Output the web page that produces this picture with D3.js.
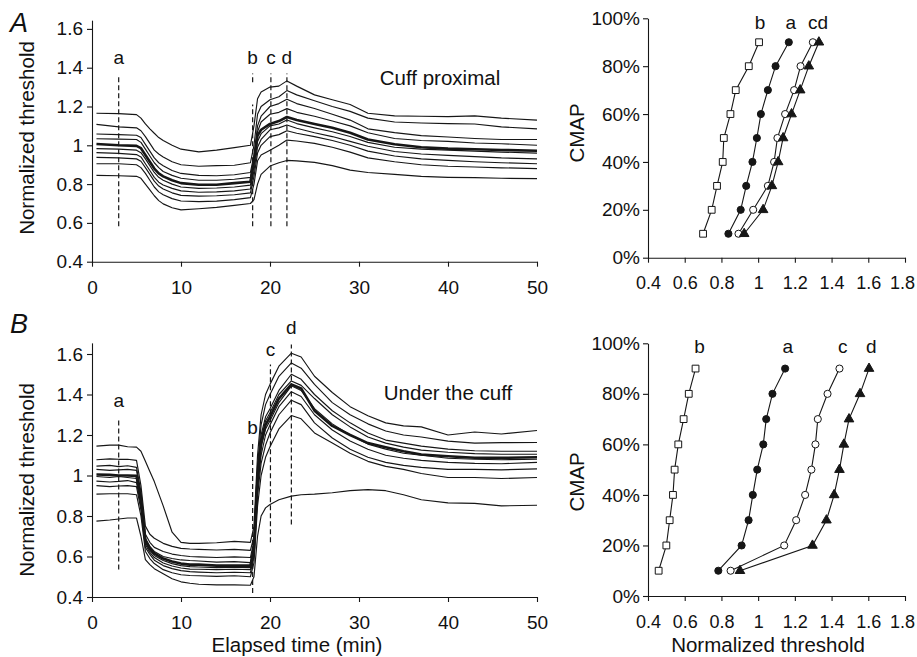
<!DOCTYPE html>
<html>
<head>
<meta charset="utf-8">
<script src="https://cdn.jsdelivr.net/npm/d3@7"></script>
<style>
  body { margin: 0; background: #fff; }
  svg { display: block; }
  text { font-family: "Liberation Sans", Arial, Helvetica, sans-serif; fill: #111; }
</style>
</head>
<body>
<svg id="fig" width="917" height="657"></svg>
<script>
// ---------- time courses: cuff proximal (panel A) ----------
const timeProx = [0.5, 3, 5, 5.5, 6, 6.5, 7, 7.5, 8, 9, 10, 12, 14, 16, 17.8, 18.2, 18.6, 19, 20, 21, 21.9, 23, 25, 27, 29, 31, 34, 37, 40, 43, 46, 50];
const prox90 = [1.165, 1.163, 1.158, 1.14, 1.11, 1.085, 1.062, 1.04, 1.025, 1.0, 0.98, 0.966, 0.975, 0.988, 1.0, 1.1, 1.24, 1.275, 1.3, 1.305, 1.332, 1.305, 1.26, 1.235, 1.21, 1.165, 1.152, 1.15, 1.148, 1.152, 1.14, 1.13];
const prox80 = [1.108, 1.095, 1.09, 1.075, 1.045, 1.01, 0.975, 0.955, 0.94, 0.915, 0.9, 0.892, 0.895, 0.897, 0.91, 1.0, 1.16, 1.2, 1.235, 1.25, 1.282, 1.26, 1.23, 1.2, 1.175, 1.14, 1.12, 1.115, 1.112, 1.11, 1.095, 1.085];
const prox70 = [1.058, 1.055, 1.052, 1.04, 1.005, 0.97, 0.935, 0.91, 0.895, 0.87, 0.855, 0.845, 0.843, 0.848, 0.86, 0.95, 1.1, 1.15, 1.2, 1.215, 1.237, 1.215, 1.19, 1.16, 1.13, 1.085, 1.065, 1.05, 1.043, 1.035, 1.03, 1.03];
const prox60 = [1.034, 1.032, 1.03, 1.015, 0.98, 0.945, 0.91, 0.885, 0.865, 0.845, 0.83, 0.82, 0.82, 0.825, 0.835, 0.93, 1.07, 1.12, 1.16, 1.17, 1.189, 1.17, 1.15, 1.125, 1.1, 1.065, 1.035, 1.025, 1.02, 1.012, 1.008, 1.0];
const proxMean = [1.007, 1.0, 0.997, 0.985, 0.95, 0.915, 0.88, 0.855, 0.84, 0.82, 0.805, 0.797, 0.797, 0.805, 0.812, 0.92, 1.05, 1.08, 1.11, 1.125, 1.146, 1.13, 1.11, 1.09, 1.065, 1.03, 1.005, 0.99, 0.983, 0.98, 0.976, 0.972];
const prox50 = [0.983, 0.98, 0.975, 0.962, 0.93, 0.895, 0.86, 0.835, 0.82, 0.8, 0.785, 0.778, 0.78, 0.785, 0.795, 0.9, 1.02, 1.06, 1.1, 1.11, 1.13, 1.112, 1.09, 1.07, 1.045, 1.015, 0.99, 0.98, 0.975, 0.97, 0.965, 0.96];
const prox40 = [0.962, 0.958, 0.952, 0.94, 0.905, 0.87, 0.835, 0.81, 0.795, 0.778, 0.765, 0.758, 0.76, 0.765, 0.775, 0.87, 0.99, 1.03, 1.08, 1.09, 1.105, 1.088, 1.065, 1.045, 1.02, 0.995, 0.968, 0.955, 0.948, 0.942, 0.935, 0.93];
const prox30 = [0.938, 0.935, 0.93, 0.918, 0.885, 0.85, 0.815, 0.79, 0.775, 0.755, 0.742, 0.738, 0.74, 0.745, 0.755, 0.84, 0.96, 1.0, 1.045, 1.055, 1.075, 1.062, 1.045, 1.025, 1.0, 0.97, 0.945, 0.93, 0.922, 0.915, 0.91, 0.905];
const prox20 = [0.905, 0.905, 0.9, 0.885, 0.855, 0.82, 0.785, 0.76, 0.745, 0.725, 0.713, 0.71, 0.712, 0.72, 0.73, 0.8, 0.92, 0.95, 0.975, 1.0, 1.027, 1.022, 1.01, 0.99, 0.965, 0.935, 0.915, 0.9, 0.892, 0.888, 0.884, 0.88];
const prox10 = [0.845, 0.843, 0.84, 0.83, 0.8, 0.77, 0.74, 0.715, 0.698, 0.678, 0.667, 0.673, 0.68, 0.69, 0.7, 0.72, 0.8, 0.85, 0.893, 0.91, 0.922, 0.92, 0.912, 0.895, 0.872, 0.86, 0.85, 0.84, 0.835, 0.833, 0.83, 0.828];

// ---------- time courses: under the cuff (panel B) ----------
const timeUnder = [0.5, 2, 3, 4, 5, 5.5, 6, 6.5, 7, 8, 9, 10, 11, 12, 14, 16, 17.8, 18.2, 18.6, 19, 19.5, 20, 21, 22.4, 23.5, 25, 27, 29, 31, 33, 35, 37, 40, 43, 46, 50];
const under90 = [1.145, 1.15, 1.15, 1.142, 1.14, 1.12, 1.07, 1.02, 0.97, 0.85, 0.72, 0.67, 0.665, 0.665, 0.668, 0.675, 0.67, 0.75, 1.1, 1.3, 1.4, 1.45, 1.54, 1.604, 1.585, 1.49, 1.41, 1.34, 1.295, 1.26, 1.245, 1.24, 1.2, 1.215, 1.205, 1.222];
const under80 = [1.078, 1.082, 1.08, 1.08, 1.075, 0.95, 0.75, 0.71, 0.69, 0.665, 0.65, 0.64, 0.637, 0.635, 0.632, 0.635, 0.63, 0.7, 1.05, 1.25, 1.35, 1.4, 1.49, 1.556, 1.53, 1.45, 1.36, 1.3, 1.255, 1.22, 1.2, 1.19, 1.17, 1.16, 1.162, 1.163];
const under70 = [1.046, 1.05, 1.044, 1.048, 1.04, 0.92, 0.71, 0.67, 0.645, 0.625, 0.612, 0.605, 0.6, 0.598, 0.595, 0.598, 0.595, 0.68, 1.02, 1.2, 1.29, 1.33, 1.42, 1.5, 1.475, 1.4, 1.32, 1.26, 1.21, 1.175, 1.16, 1.145, 1.13, 1.122, 1.12, 1.12];
const under60 = [1.03, 1.025, 1.028, 1.03, 1.025, 0.9, 0.69, 0.65, 0.625, 0.6, 0.59, 0.583, 0.58, 0.578, 0.572, 0.575, 0.57, 0.66, 1.0, 1.18, 1.27, 1.31, 1.4, 1.467, 1.445, 1.38, 1.3, 1.24, 1.19, 1.16, 1.14, 1.125, 1.115, 1.108, 1.105, 1.105];
const underMean = [1.005, 1.003, 1.0, 1.0, 0.998, 0.88, 0.68, 0.64, 0.615, 0.59, 0.575, 0.565, 0.56, 0.56, 0.555, 0.555, 0.555, 0.64, 0.98, 1.16, 1.25, 1.29, 1.38, 1.45, 1.43, 1.32, 1.245, 1.2, 1.16, 1.14, 1.12, 1.104, 1.095, 1.088, 1.087, 1.09];
const under50 = [0.995, 0.99, 0.995, 0.99, 0.985, 0.87, 0.67, 0.63, 0.605, 0.58, 0.565, 0.555, 0.55, 0.548, 0.545, 0.547, 0.545, 0.63, 0.96, 1.14, 1.23, 1.27, 1.36, 1.443, 1.42, 1.33, 1.255, 1.2, 1.155, 1.13, 1.11, 1.1, 1.085, 1.08, 1.078, 1.08];
const under40 = [0.972, 0.968, 0.971, 0.975, 0.965, 0.85, 0.66, 0.62, 0.595, 0.568, 0.553, 0.543, 0.538, 0.537, 0.535, 0.537, 0.535, 0.61, 0.94, 1.1, 1.2, 1.25, 1.34, 1.414, 1.39, 1.3, 1.225, 1.17, 1.13, 1.1, 1.085, 1.075, 1.065, 1.06, 1.058, 1.065];
const under30 = [0.95, 0.945, 0.948, 0.95, 0.945, 0.83, 0.645, 0.61, 0.582, 0.555, 0.54, 0.53, 0.525, 0.523, 0.52, 0.522, 0.52, 0.6, 0.9, 1.06, 1.15, 1.21, 1.3, 1.372, 1.35, 1.26, 1.185, 1.13, 1.09, 1.065, 1.05, 1.04, 1.03, 1.03, 1.028, 1.033];
const under20 = [0.908, 0.91, 0.91, 0.91, 0.905, 0.8, 0.625, 0.59, 0.565, 0.535, 0.52, 0.51, 0.506, 0.505, 0.502, 0.505, 0.5, 0.57, 0.85, 1.0, 1.09, 1.142, 1.23, 1.296, 1.28, 1.21, 1.16, 1.11, 1.07, 1.045, 1.03, 1.01, 0.99, 0.99, 0.985, 0.99];
const under10 = [0.775, 0.78, 0.785, 0.79, 0.79, 0.7, 0.585, 0.56, 0.54, 0.515, 0.49, 0.475, 0.468, 0.463, 0.46, 0.46, 0.458, 0.5, 0.7, 0.8, 0.84, 0.857, 0.88, 0.898, 0.905, 0.908, 0.915, 0.925, 0.93, 0.925, 0.905, 0.88, 0.865, 0.862, 0.85, 0.853];

// ---------- sampling instants (dashed lines) ----------
const markLabels = ["a", "b", "c", "d"];
const markTimeProx = [3.0, 18.05, 20.1, 21.9];
const markSpanProx = [[[0.583, 1.366]], [[0.583, 1.21], [1.325, 1.37]], [[0.583, 1.37]], [[0.583, 1.37]]];
const markLabelProx = [1.42, 1.42, 1.42, 1.42];
const markTimeUnder = [3.0, 18.05, 20.05, 22.4];
const markSpanUnder = [[[0.536, 1.286]], [[0.42, 1.168]], [[0.67, 1.548]], [[0.758, 1.647]]];
const markLabelUnder = [1.34, 1.207, 1.588, 1.70];

// ---------- CMAP level vs normalized threshold ----------
const cmapLevels = [10, 20, 30, 40, 50, 60, 70, 80, 90];
const proxAtA = [0.838, 0.905, 0.935, 0.969, 0.993, 1.015, 1.053, 1.095, 1.167];
const proxAtB = [0.70, 0.747, 0.776, 0.807, 0.813, 0.849, 0.878, 0.949, 1.005];
const proxAtC = [0.893, 0.973, 1.053, 1.087, 1.105, 1.147, 1.196, 1.231, 1.298];
const proxAtD = [0.924, 1.027, 1.075, 1.109, 1.136, 1.182, 1.229, 1.276, 1.331];
const underAtA = [0.783, 0.910, 0.948, 0.971, 0.995, 1.028, 1.044, 1.078, 1.147];
const underAtB = [0.458, 0.500, 0.518, 0.536, 0.545, 0.565, 0.594, 0.622, 0.659];
const underAtC = [0.850, 1.142, 1.207, 1.256, 1.290, 1.312, 1.325, 1.378, 1.443];
const underAtD = [0.901, 1.296, 1.372, 1.414, 1.443, 1.467, 1.495, 1.555, 1.604];
const proxTags = [["b", 1.0], ["a", 1.167], ["cd", 1.315]];
const underTags = [["b", 0.67], ["a", 1.15], ["c", 1.45], ["d", 1.605]];

const thresholdTicks = [0.4, 0.6, 0.8, 1.0, 1.2, 1.4, 1.6];
const timeTicks = [0, 10, 20, 30, 40, 50];
const cmapTicks = [0, 20, 40, 60, 80, 100];
const cmapXTicks = [0.4, 0.6, 0.8, 1.0, 1.2, 1.4, 1.6, 1.8];

// ---------- drawing ----------
const svg = d3.select("#fig");
const INK = "#161616";
const FONT = "\"Liberation Sans\", Arial, Helvetica, sans-serif";
const TICK_FONT = 19;
const numFmt = d => (d === 1 ? "1" : d3.format(".1f")(d));

function styleAxis(g, size) {
  g.attr("font-family", FONT).attr("font-size", size || TICK_FONT);
  g.selectAll("path.domain").attr("stroke", INK).attr("stroke-width", 1.1);
  g.selectAll(".tick line").attr("stroke", INK).attr("stroke-width", 1.1);
  g.selectAll(".tick text").attr("fill", INK);
}

function timeCourse(cfg) {
  const x = d3.scaleLinear().domain([0, 50]).range([92, 537]);
  const y = d3.scaleLinear().domain([0.4, 1.6]).range(cfg.yRange);
  const g = svg.append("g");

  const yAxisScale = d3.scaleLinear().domain([0.4, cfg.axisTop]).range([y(0.4), y(cfg.axisTop)]);
  g.append("g").attr("transform", `translate(${x(0)},0)`)
    .call(d3.axisLeft(yAxisScale).tickValues(thresholdTicks).tickFormat(numFmt).tickSize(5).tickSizeOuter(0).tickPadding(4))
    .call(styleAxis);
  g.append("g").attr("transform", `translate(0,${y(0.4)})`)
    .call(d3.axisBottom(x).tickValues(timeTicks).tickSize(5).tickSizeOuter(0).tickPadding(14))
    .call(styleAxis);

  // dashed sampling lines
  cfg.markTimes.forEach((t, i) => {
    cfg.markSpans[i].forEach(seg => {
      g.append("line")
        .attr("x1", x(t)).attr("x2", x(t))
        .attr("y1", y(seg[0])).attr("y2", y(seg[1]))
        .attr("stroke", INK).attr("stroke-width", 1.2)
        .attr("stroke-dasharray", "5,3");
    });
    g.append("text").attr("x", x(t)).attr("y", y(cfg.markLabelAt[i]))
      .attr("text-anchor", "middle").attr("font-size", 19).text(markLabels[i]);
  });

  const line = d3.line().x(d => x(d[0])).y(d => y(d[1]));
  cfg.curves.forEach(vals => {
    g.append("path").datum(cfg.times.map((t, i) => [t, vals[i]]))
      .attr("d", line).attr("fill", "none").attr("stroke", INK)
      .attr("stroke-width", 1.15).attr("stroke-linejoin", "round");
  });
  g.append("path").datum(cfg.times.map((t, i) => [t, cfg.mean[i]]))
    .attr("d", line).attr("fill", "none").attr("stroke", INK)
    .attr("stroke-width", 2.6).attr("stroke-linejoin", "round");

  g.append("text").attr("x", cfg.noteX).attr("y", cfg.noteY)
    .attr("text-anchor", "middle").attr("font-size", 20.5).text(cfg.note);
  g.append("text").attr("transform", `translate(34,${cfg.titleY}) rotate(-90)`)
    .attr("text-anchor", "middle").attr("font-size", 20.5).text("Normalized threshold");
  g.append("text").attr("x", 10).attr("y", cfg.letterY)
    .attr("font-size", 27).attr("font-style", "italic").text(cfg.letter);
}

function cmapPanel(cfg) {
  const x = d3.scaleLinear().domain([0.4, 1.8]).range([648, 905]);
  const y = d3.scaleLinear().domain([0, 100]).range(cfg.yRange);
  const g = svg.append("g");

  g.append("g").attr("transform", `translate(${x(0.4)},0)`)
    .call(d3.axisLeft(y).tickValues(cmapTicks).tickFormat(d => d + "%").tickSize(5).tickSizeOuter(0).tickPadding(3))
    .call(styleAxis);
  const xg = g.append("g").attr("transform", `translate(0,${y(0)})`)
    .call(d3.axisBottom(x).tickValues(cmapXTicks).tickFormat(numFmt).tickSize(5).tickSizeOuter(0).tickPadding(14))
    .call(styleAxis, 18);
  // keep the last tick label inside the figure edge
  xg.selectAll(".tick text").filter(d => d === 1.8).attr("dx", -3);

  const line = d3.line().x(d => x(d[0])).y(d => y(d[1]));
  const sets = [
    { vals: cfg.b, sym: d3.symbolSquare, size: 46, fill: "#fff" },
    { vals: cfg.a, sym: d3.symbolCircle, size: 40, fill: INK },
    { vals: cfg.c, sym: d3.symbolCircle, size: 40, fill: "#fff" },
    { vals: cfg.d, sym: d3.symbolTriangle, size: 40, fill: INK }
  ];
  sets.forEach(s => {
    const pts = s.vals.map((v, i) => [v, cmapLevels[i]]);
    g.append("path").datum(pts).attr("d", line)
      .attr("fill", "none").attr("stroke", INK).attr("stroke-width", 1.1);
  });
  sets.forEach(s => {
    const pts = s.vals.map((v, i) => [v, cmapLevels[i]]);
    g.selectAll(null).data(pts).enter().append("path")
      .attr("transform", d => `translate(${x(d[0])},${y(d[1])})`)
      .attr("d", d3.symbol().type(s.sym).size(s.size))
      .attr("fill", s.fill).attr("stroke", INK).attr("stroke-width", 1);
  });

  cfg.tags.forEach(([t, v]) => {
    g.append("text").attr("x", x(v) + 2).attr("y", y(100) + cfg.tagDy)
      .attr("text-anchor", "middle").attr("font-size", 19).text(t);
  });
  g.append("text").attr("transform", `translate(584,${cfg.titleY}) rotate(-90)`)
    .attr("text-anchor", "middle").attr("font-size", 20.5).text("CMAP");
  if (cfg.xTitle) {
    g.append("text").attr("x", 768).attr("y", 652)
      .attr("text-anchor", "middle").attr("font-size", 20.5).text(cfg.xTitle);
  }
}

timeCourse({
  yRange: [261.7, 28.9], axisTop: 1.645,
  times: timeProx,
  curves: [prox90, prox80, prox70, prox60, prox50, prox40, prox30, prox20, prox10],
  mean: proxMean,
  markTimes: markTimeProx, markSpans: markSpanProx, markLabelAt: markLabelProx,
  note: "Cuff proximal", noteX: 440, noteY: 85,
  titleY: 138, letter: "A", letterY: 32
});
timeCourse({
  yRange: [597, 354], axisTop: 1.655,
  times: timeUnder,
  curves: [under90, under80, under70, under60, under50, under40, under30, under20, under10],
  mean: underMean,
  markTimes: markTimeUnder, markSpans: markSpanUnder, markLabelAt: markLabelUnder,
  note: "Under the cuff", noteX: 448, noteY: 400,
  titleY: 480, letter: "B", letterY: 333
});
svg.append("text").attr("x", 297).attr("y", 652)
  .attr("text-anchor", "middle").attr("font-size", 20.5).text("Elapsed time (min)");

cmapPanel({
  yRange: [257.7, 18.3],
  a: proxAtA, b: proxAtB, c: proxAtC, d: proxAtD,
  tags: proxTags, tagDy: 11, titleY: 133
});
cmapPanel({
  yRange: [596, 343.3],
  a: underAtA, b: underAtB, c: underAtC, d: underAtD,
  tags: underTags, tagDy: 10, titleY: 482, xTitle: "Normalized threshold"
});
</script>
</body>
</html>
